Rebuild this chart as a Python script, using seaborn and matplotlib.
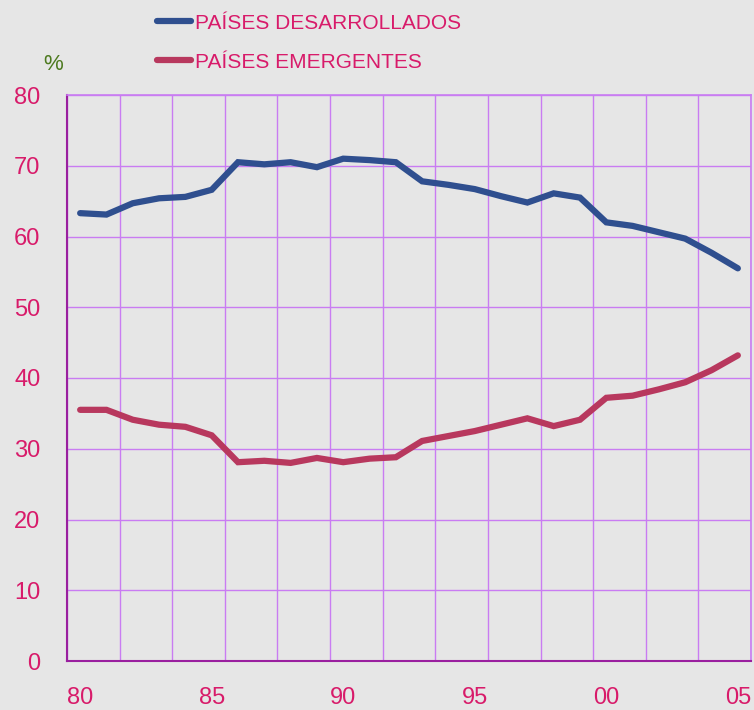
import matplotlib
matplotlib.use("Agg")
import matplotlib.pyplot as plt
import seaborn as sns
import pandas as pd
import numpy as np
from matplotlib.lines import Line2D

years = list(range(1980, 2006))
desarrollados = [63.3, 63.1, 64.7, 65.4, 65.6, 66.6, 70.5, 70.2, 70.5, 69.8,
                 71.0, 70.8, 70.5, 67.8, 67.3, 66.7, 65.7, 64.8, 66.1, 65.5,
                 62.0, 61.5, 60.6, 59.7, 57.7, 55.5]
emergentes = [35.5, 35.5, 34.1, 33.4, 33.1, 31.9, 28.1, 28.3, 28.0, 28.7,
              28.1, 28.6, 28.8, 31.1, 31.8, 32.5, 33.4, 34.3, 33.2, 34.1,
              37.2, 37.5, 38.4, 39.4, 41.1, 43.2]
series_names = ["PAÍSES DESARROLLADOS", "PAÍSES EMERGENTES"]
xtick_years = [1980, 1985, 1990, 1995, 2000, 2005]
xtick_labels = ["80", "85", "90", "95", "00", "05"]
yticks = [0, 10, 20, 30, 40, 50, 60, 70, 80]

df = pd.DataFrame({
    "year": years * 2,
    "value": desarrollados + emergentes,
    "serie": [series_names[0]] * len(years) + [series_names[1]] * len(years),
})

BG = "#e6e6e6"
GRID = "#c97cf2"
SPINE = "#9a1f9f"
TXT = "#d81b6a"
palette = {series_names[0]: "#2f4f8f", series_names[1]: "#b8385e"}

sns.set_theme(style="white")
plt.rcParams["font.family"] = ["Liberation Sans", "DejaVu Sans"]

fig = plt.figure(figsize=(7.54, 7.10), dpi=100, facecolor=BG)
ax = fig.add_axes([67 / 754, 49 / 710, 684 / 754, 566 / 710])
ax.set_facecolor(BG)

sns.lineplot(data=df, x="year", y="value", hue="serie", palette=palette,
             linewidth=4.5, ax=ax, legend=False, solid_capstyle="round",
             solid_joinstyle="miter", zorder=3)

ax.set_xlim(1979.5, 2005.5)
ax.set_ylim(0, 80)
ax.set_xticks(xtick_years)
ax.set_xticklabels(xtick_labels)
ax.set_xticks(np.arange(1979.5, 2006, 2), minor=True)
ax.set_yticks(yticks)
ax.set_yticklabels([str(v) for v in yticks])
ax.grid(False)
ax.grid(True, which="minor", axis="x", color=GRID, linewidth=1, zorder=1)
ax.grid(True, which="major", axis="y", color=GRID, linewidth=1, zorder=1)
ax.tick_params(which="both", length=0)
ax.tick_params(axis="x", which="major", pad=19, labelsize=17, labelcolor=TXT)
ax.tick_params(axis="y", which="major", pad=19, labelsize=17, labelcolor=TXT)
ax.set_xlabel("")
ax.set_ylabel("")

for side in ["left", "bottom"]:
    ax.spines[side].set_color(SPINE)
    ax.spines[side].set_linewidth(1.5)
for side in ["top", "right"]:
    ax.spines[side].set_color(GRID)
    ax.spines[side].set_linewidth(1.2)

fig.text(53 / 754, 1 - 65 / 710, "%", color="#4d7a1f", fontsize=16,
         ha="center", va="center")

handles = [Line2D([0], [0], color=palette[n], lw=4.5, solid_capstyle="round")
           for n in series_names]
leg = fig.legend(handles, series_names, loc="upper left",
                 bbox_to_anchor=(138 / 754, 1 + 5 / 710), frameon=False,
                 fontsize=15, handlelength=1.65, handletextpad=0.2,
                 labelspacing=0.95, labelcolor=TXT)

fig.savefig("out.png", dpi=100, facecolor=BG)
